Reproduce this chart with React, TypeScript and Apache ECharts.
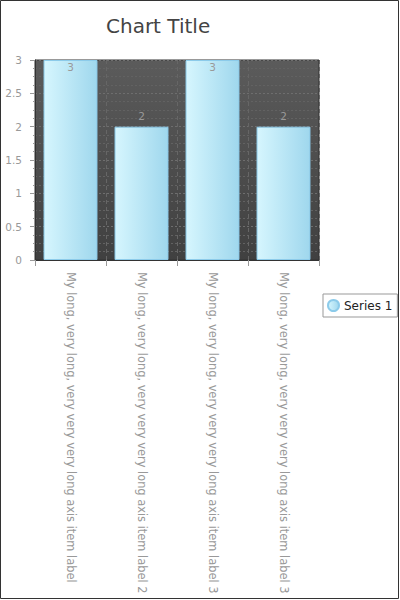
import React, { useEffect, useRef } from "react";
import * as echarts from "echarts";

const categories = [
  "My long, very long, very very very long axis item label",
  "My long, very long, very very very long axis item label 2",
  "My long, very long, very very very long axis item label 3",
  "My long, very long, very very very long axis item label 3",
];
const seriesValues = [3, 2, 3, 2];
const seriesName = "Series 1";
const yMin = 0;
const yMax = 3;
const yInterval = 0.5;

const FONT = "DejaVu Sans";

export default function App() {
  const ref = useRef<HTMLDivElement>(null);
  useEffect(() => {
    if (!ref.current) return;
    const chart = echarts.init(ref.current, undefined, { renderer: "svg" });
    const barGradient = new echarts.graphic.LinearGradient(0, 0, 1, 0, [
      { offset: 0, color: "#d6f6fe" },
      { offset: 1, color: "#9fd7ed" },
    ]);
    chart.setOption({
      animation: false,
      backgroundColor: "#ffffff",
      title: {
        text: "Chart Title",
        left: 101,
        top: 11,
        textStyle: { fontFamily: FONT, fontSize: 20, fontWeight: "normal", color: "#444" },
      },
      graphic: [
        {
          type: "rect",
          shape: { x: 0.5, y: 0.5, width: 398, height: 598 },
          style: { fill: "none", stroke: "#333", lineWidth: 1 },
          silent: true,
        },
      ],
      legend: {
        left: 323,
        top: 294,
        orient: "vertical",
        borderColor: "#999",
        borderWidth: 1,
        borderRadius: 0,
        padding: [5, 5, 5, 4],
        itemWidth: 11,
        itemHeight: 11,
        itemGap: 4,
        icon: "circle",
        textStyle: { fontFamily: FONT, fontSize: 12, color: "#222" },
        data: [seriesName],
      },
      grid: {
        left: 35,
        top: 60,
        width: 284,
        height: 200,
        show: true,
        borderColor: "#333",
        borderWidth: 1,
        backgroundColor: new echarts.graphic.LinearGradient(0, 0, 0, 1, [
          { offset: 0, color: "#5b5b5b" },
          { offset: 1, color: "#404040" },
        ]),
      },
      xAxis: {
        type: "category",
        data: categories,
        axisLine: { show: true, lineStyle: { color: "#333" } },
        axisTick: { show: true, length: 6, lineStyle: { color: "#999" } },
        splitLine: { show: true, lineStyle: { color: "#666", type: [4, 3] } },
        axisLabel: {
          rotate: -90,
          margin: 12,
          interval: 0,
          color: "#999",
          fontFamily: FONT,
          fontSize: 11.4,
        },
      },
      yAxis: {
        type: "value",
        min: yMin,
        max: yMax,
        interval: yInterval,
        axisLine: { show: true, lineStyle: { color: "#333" } },
        axisTick: { show: true, length: 5, lineStyle: { color: "#999" } },
        minorTick: { show: true, splitNumber: 4, length: 2, lineStyle: { color: "#999" } },
        splitLine: { show: true, lineStyle: { color: "#6e6e6e", type: [2, 2] } },
        minorSplitLine: { show: true, lineStyle: { color: "#626262", type: [2, 2] } },
        axisLabel: { margin: 13, color: "#999", fontFamily: FONT, fontSize: 10.5 },
      },
      series: [
        {
          name: seriesName,
          type: "bar",
          barWidth: "76%",
          data: seriesValues.map((v) =>
            v >= yMax
              ? { value: v, label: { position: "insideTop", distance: 1 } }
              : { value: v }
          ),
          itemStyle: { color: barGradient, borderColor: "#8ccbea", borderWidth: 1 },
          label: {
            show: true,
            position: "top",
            distance: 5,
            color: "#999",
            fontFamily: FONT,
            fontSize: 10.5,
          },
        },
      ],
    });
    return () => chart.dispose();
  }, []);
  return (
    <div
      ref={ref}
      style={{ position: "absolute", left: 0, top: 0, width: 400, height: 600 }}
    />
  );
}
